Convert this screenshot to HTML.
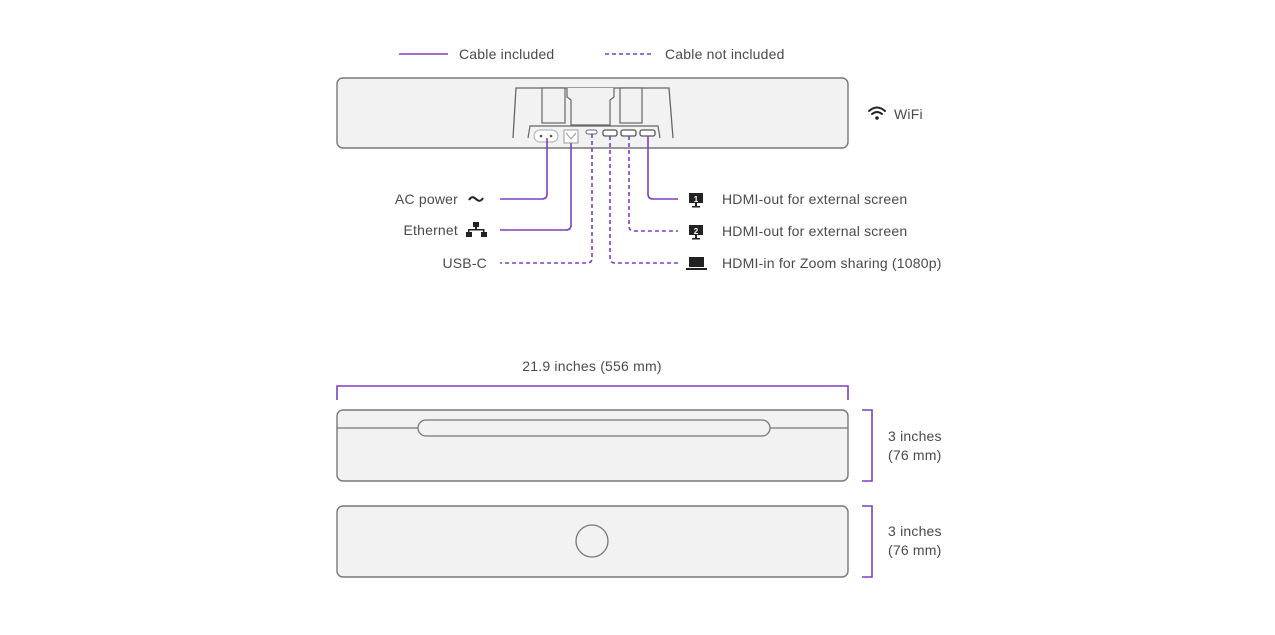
<!DOCTYPE html>
<html><head><meta charset="utf-8"><style>
html,body{margin:0;padding:0;background:#fff;}
svg text{font-family:"Liberation Sans",sans-serif;font-size:14px;fill:#4a4a4a;letter-spacing:0.2px;}
</style></head><body>
<svg width="1275" height="630" viewBox="0 0 1275 630" xmlns="http://www.w3.org/2000/svg">
<g stroke="#7b3fc4" stroke-width="1.6" fill="none">
<line x1="399" y1="54" x2="448" y2="54"/>
<line x1="605" y1="54" x2="654" y2="54" stroke-dasharray="4,3"/>
</g>
<text x="459" y="59">Cable included</text>
<text x="665" y="59">Cable not included</text>

<!-- rear view -->
<rect x="337" y="78" width="511" height="70" rx="6" fill="#f2f2f2" stroke="#777" stroke-width="1.4"/>
<path d="M513,138 L516,88 L669,88 L673,138" fill="#f2f2f2" stroke="#666" stroke-width="1.3"/>
<path d="M528,138 L530,126 L658,126 L660,138" fill="none" stroke="#666" stroke-width="1.2"/>
<rect x="542" y="88" width="23" height="35" fill="#f2f2f2" stroke="#666" stroke-width="1.2"/>
<rect x="620" y="88" width="22" height="35" fill="#f2f2f2" stroke="#666" stroke-width="1.2"/>
<path d="M567,88 L567,97 L571,100 L571,125 L610,125 L610,100 L614,97 L614,88" fill="#f2f2f2" stroke="#666" stroke-width="1.2"/>
<rect x="534" y="130" width="24" height="12" rx="6" fill="#fff" stroke="#aaa"/>
<circle cx="541" cy="136" r="1.3" fill="#555"/><circle cx="551" cy="136" r="1.3" fill="#555"/>
<rect x="564" y="130" width="14" height="13" fill="#fff" stroke="#999"/>
<path d="M566,133 L571,139 L576,133" fill="none" stroke="#999"/>
<rect x="586" y="130" width="11" height="4" rx="2" fill="#fff" stroke="#666"/>
<rect x="603" y="130" width="14" height="6" rx="2" fill="#fff" stroke="#555" stroke-width="1.3"/>
<rect x="621" y="130" width="15" height="6" rx="2" fill="#fff" stroke="#555" stroke-width="1.3"/>
<rect x="640" y="130" width="15" height="6" rx="2" fill="#fff" stroke="#555" stroke-width="1.3"/>

<g stroke="#7b3fc4" stroke-width="1.6" fill="none">
<path d="M547,138 V194 Q547,199 542,199 H500"/>
<path d="M571,143 V225 Q571,230 566,230 H500"/>
<path d="M592,134 V258 Q592,263 587,263 H500" stroke-dasharray="4,3"/>
<path d="M610,136 V258 Q610,263 615,263 H678" stroke-dasharray="4,3"/>
<path d="M629,136 V226 Q629,231 634,231 H678" stroke-dasharray="4,3"/>
<path d="M648,136 V194 Q648,199 653,199 H678"/>
</g>

<text x="458" y="204" text-anchor="end">AC power</text>
<path d="M469,200 Q472,195 476,199 Q480,203 483,198" fill="none" stroke="#222" stroke-width="2"/>
<text x="458" y="235" text-anchor="end">Ethernet</text>
<g fill="#222"><rect x="473" y="222" width="6" height="5"/><rect x="475" y="227" width="2" height="3"/><rect x="468" y="229" width="16" height="1.5"/><rect x="468" y="229" width="1.5" height="3"/><rect x="483" y="229" width="1.5" height="3"/><rect x="466" y="232" width="6" height="5"/><rect x="481" y="232" width="6" height="5"/></g>
<text x="487" y="268" text-anchor="end">USB-C</text>

<g fill="#222">
<rect x="689" y="193" width="14" height="10"/><rect x="695" y="203" width="2" height="3"/><rect x="692" y="206" width="8" height="1.5"/>
<rect x="689" y="225" width="14" height="10"/><rect x="695" y="235" width="2" height="3"/><rect x="692" y="238" width="8" height="1.5"/>
<rect x="689" y="257" width="15" height="10"/><rect x="686" y="268" width="21" height="2"/>
</g>
<text x="696" y="202" text-anchor="middle" style="font-size:8px;fill:#fff;font-weight:bold;letter-spacing:0">1</text>
<text x="696" y="234" text-anchor="middle" style="font-size:8px;fill:#fff;font-weight:bold;letter-spacing:0">2</text>
<text x="722" y="204">HDMI-out for external screen</text>
<text x="722" y="236">HDMI-out for external screen</text>
<text x="722" y="268">HDMI-in for Zoom sharing (1080p)</text>

<g fill="none" stroke="#222" stroke-width="2" stroke-linecap="round">
<path d="M869,111 Q877,104 885,111"/><path d="M872,114 Q877,110 882,114"/>
</g>
<circle cx="877" cy="118" r="1.8" fill="#222"/>
<text x="894" y="119">WiFi</text>

<!-- dimensions -->
<text x="592" y="371" text-anchor="middle">21.9 inches (556 mm)</text>
<path d="M337,400 V386 H848 V400" fill="none" stroke="#7b3fc4" stroke-width="1.6"/>
<rect x="337" y="410" width="511" height="71" rx="6" fill="#f2f2f2" stroke="#777" stroke-width="1.4"/>
<line x1="337" y1="428" x2="848" y2="428" stroke="#777" stroke-width="1.3"/>
<rect x="418" y="420" width="352" height="16" rx="8" fill="#f2f2f2" stroke="#777" stroke-width="1.3"/>
<rect x="337" y="506" width="511" height="71" rx="6" fill="#f2f2f2" stroke="#777" stroke-width="1.4"/>
<circle cx="592" cy="541" r="16" fill="#f2f2f2" stroke="#777" stroke-width="1.3"/>
<path d="M862,410 H872 V481 H862" fill="none" stroke="#7b3fc4" stroke-width="1.6"/>
<path d="M862,506 H872 V577 H862" fill="none" stroke="#7b3fc4" stroke-width="1.6"/>
<text x="888" y="441">3 inches</text><text x="888" y="460">(76 mm)</text>
<text x="888" y="536">3 inches</text><text x="888" y="555">(76 mm)</text>
</svg>
</body></html>
